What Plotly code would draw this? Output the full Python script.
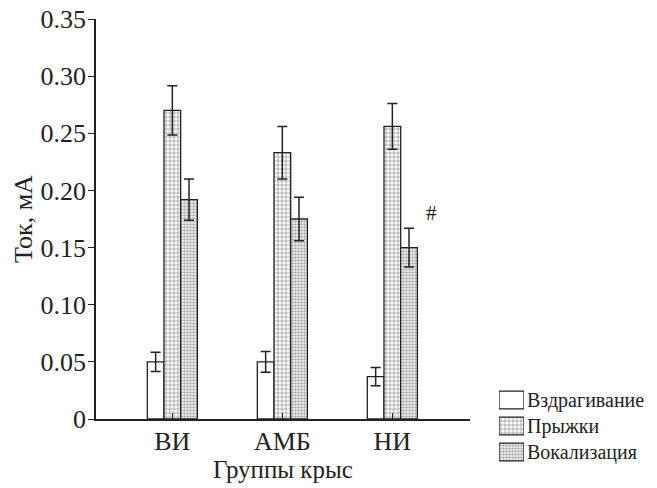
import plotly.graph_objects as go

categories = ["ВИ", "АМБ", "НИ"]
series_names = ["Вздрагивание", "Прыжки", "Вокализация"]
startle = [0.050, 0.050, 0.037]
startle_err = [0.0085, 0.009, 0.008]
jumps = [0.270, 0.233, 0.256]
jumps_err = [0.0215, 0.023, 0.020]
vocal = [0.192, 0.175, 0.150]
vocal_err = [0.018, 0.019, 0.017]
ytick_vals = [0, 0.05, 0.10, 0.15, 0.20, 0.25, 0.30, 0.35]
ytick_text = ["0", "0.05", "0.10", "0.15", "0.20", "0.25", "0.30", "0.35"]
legend_swatch = [1, 1, 1]

FONT = "Liberation Serif, Times New Roman, serif"
INK = "#222222"

pattern_shapes = ["", "+", "."]
pattern_sizes = [4, 4, 3]
pattern_solid = [0.3, 0.35, 0.55]
pattern_fg = ["#333333", "#333333", "#555555"]

values = [startle, jumps, vocal]
errors = [startle_err, jumps_err, vocal_err]

# pixel geometry (body margin removed below, so page px == figure px)
W, H = 657, 488
ml, mr, mt, mb = 96, 5, 19, 20
pw, ph = W - ml - mr, H - mt - mb
def px_x(x):
    return (x - ml) / pw
def px_y(y):
    return (H - mb - y) / ph

fig = go.Figure()
for i, (name, v, e) in enumerate(zip(series_names, values, errors)):
    fig.add_trace(go.Bar(
        x=categories, y=v, name=name, showlegend=False,
        marker=dict(color="white", line=dict(color=INK, width=1.3),
                    pattern=dict(shape=pattern_shapes[i], size=pattern_sizes[i],
                                 solidity=pattern_solid[i], fgcolor=pattern_fg[i],
                                 bgcolor="white")),
        error_y=dict(type="data", array=e, color=INK, thickness=1.5, width=5),
        xaxis="x", yaxis="y",
    ))

# legend drawn as a small patterned bar panel
fig.add_trace(go.Bar(
    y=series_names, x=legend_swatch, orientation="h", width=0.68, showlegend=False,
    marker=dict(color="white", line=dict(color=INK, width=1.3),
                pattern=dict(shape=pattern_shapes, size=pattern_sizes,
                             solidity=pattern_solid, fgcolor=pattern_fg, bgcolor="white")),
    xaxis="x2", yaxis="y2", hoverinfo="skip",
))

fig.add_annotation(x=2.36, y=0.18, xref="x", yref="y", text="#", showarrow=False,
                   font=dict(family=FONT, size=21, color=INK))

# x-axis title
fig.add_annotation(x=(px_x(96) + px_x(470)) / 2, y=px_y(469), xref="paper", yref="paper",
                   text="Группы крыс", showarrow=False, xanchor="center", yanchor="middle",
                   font=dict(family=FONT, size=25, color=INK))

fig.update_layout(
    width=W, height=H,
    margin=dict(l=ml, r=mr, t=mt, b=mb),
    paper_bgcolor="white", plot_bgcolor="white",
    barmode="group", bargap=0.545, bargroupgap=0,
    font=dict(family=FONT, color=INK),
    showlegend=False,
    xaxis=dict(domain=[0, px_x(470)], anchor="y",
               range=[-0.694, 2.706], showline=True, linecolor=INK, linewidth=1.5,
               ticks="inside", ticklen=6, tickcolor=INK, tickwidth=1.3,
               tickfont=dict(family=FONT, size=26, color=INK), ticklabelstandoff=-2,
               showgrid=False, zeroline=False, automargin=False),
    yaxis=dict(domain=[px_y(419), 1], anchor="x",
               range=[0, 0.35], showline=True, linecolor=INK, linewidth=1.5,
               ticks="outside", ticklen=6, tickcolor=INK, tickwidth=1.3,
               tickvals=ytick_vals, ticktext=ytick_text, ticklabelstandoff=-3,
               ticklabeloverflow="allow",
               tickfont=dict(family=FONT, size=26, color=INK),
               title=dict(text="Ток, мА", font=dict(family=FONT, size=26, color=INK), standoff=0),
               showgrid=False, zeroline=False, automargin=False),
    xaxis2=dict(domain=[px_x(499), px_x(524)], anchor="y2", range=[0, 1],
                visible=False, fixedrange=True),
    yaxis2=dict(domain=[px_y(465), px_y(387)], anchor="x2", side="right",
                range=[2.5, -0.5], type="category", ticklabelstandoff=2,
                showline=False, showgrid=False, zeroline=False, ticks="",
                tickfont=dict(family=FONT, size=20, color=INK), fixedrange=True,
                automargin=False),
)

fig.write_html("out.html", config={"displayModeBar": False},
               post_script="document.body.style.margin='0px';")
